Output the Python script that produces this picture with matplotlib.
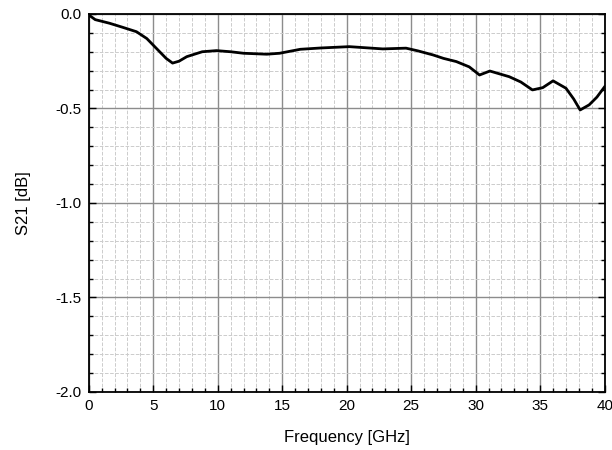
import matplotlib.pyplot as plt
from matplotlib.ticker import MultipleLocator

plt.rcParams['font.family'] = ['Liberation Sans', 'DejaVu Sans']

# values
freq = [0.0, 0.5, 1.6, 2.6, 3.7, 4.5, 5.5, 6.0, 6.5, 7.0, 7.6, 8.8, 9.9,
        11.0, 12.0, 13.8, 14.8, 16.4, 18.0, 20.2, 22.8, 24.6, 25.5, 26.7,
        27.5, 28.5, 29.5, 30.3, 31.1, 32.6, 33.5, 34.4, 35.2, 36.0, 37.0,
        37.6, 38.1, 38.8, 39.4, 40.0]
s21 = [-0.005, -0.03, -0.049, -0.07, -0.094, -0.13, -0.20, -0.235, -0.26,
       -0.25, -0.226, -0.20, -0.194, -0.200, -0.208, -0.213, -0.208, -0.187,
       -0.180, -0.173, -0.185, -0.181, -0.195, -0.217, -0.235, -0.252, -0.28,
       -0.323, -0.302, -0.332, -0.36, -0.402, -0.39, -0.354, -0.393, -0.45,
       -0.508, -0.481, -0.44, -0.385]

fig, ax = plt.subplots(figsize=(6.12, 4.5), dpi=100)
fig.subplots_adjust(left=0.145, right=0.988, top=0.969, bottom=0.129)

ax.plot(freq, s21, color='black', linewidth=2.0)

ax.set_xlim(0, 40)
ax.set_ylim(-2.0, 0.0)
ax.xaxis.set_major_locator(MultipleLocator(5))
ax.xaxis.set_minor_locator(MultipleLocator(1))
ax.yaxis.set_major_locator(MultipleLocator(0.5))
ax.yaxis.set_minor_locator(MultipleLocator(0.1))
ax.yaxis.set_major_formatter(plt.FormatStrFormatter('%.1f'))

ax.grid(which='major', color='#8c8c8c', linestyle='-', linewidth=1.0)
ax.grid(which='minor', color='#cccccc', linestyle='--', linewidth=0.7)
ax.set_axisbelow(True)

ax.tick_params(which='both', direction='in', right=True,
               labelsize=11, width=1.0)
ax.tick_params(which='major', length=5, pad=5)
ax.tick_params(which='minor', length=3)
for sp in ax.spines.values():
    sp.set_linewidth(1.3)

ax.set_xlabel('Frequency [GHz]', fontsize=12, labelpad=12)
ax.set_ylabel('S21 [dB]', fontsize=12, labelpad=18)

plt.savefig('out.png')
